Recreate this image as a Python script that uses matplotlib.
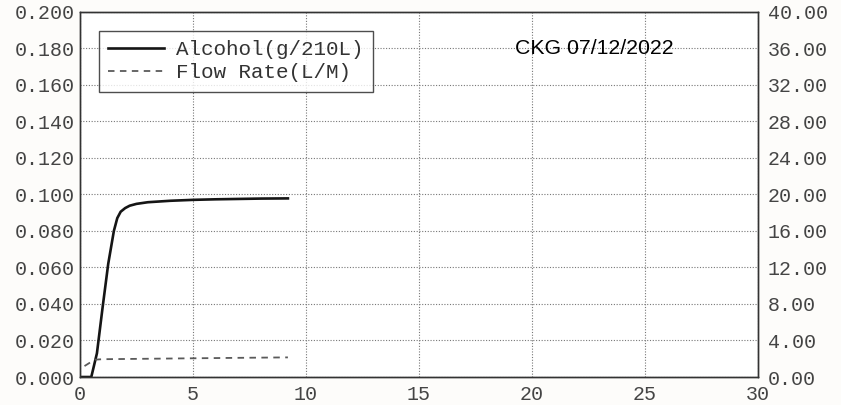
import numpy as np
import matplotlib
matplotlib.use('Agg')
import matplotlib.pyplot as plt
from matplotlib.ticker import FormatStrFormatter

# breath test readout
t_alc = [0.0, 0.5, 0.75, 1.0, 1.25, 1.5, 1.65, 1.8, 2.0, 2.2, 2.5, 3.0, 4.0, 5.0,
         6.0, 7.0, 8.0, 9.2]
alcohol = [0.000, 0.000, 0.013, 0.038, 0.062, 0.080, 0.087, 0.0905, 0.0925, 0.0938,
           0.0948, 0.0957, 0.0965, 0.0970, 0.0973, 0.0975, 0.0977, 0.0978]

t_flow = [0.2, 0.65, 1.0, 3.0, 5.0, 7.0, 9.2]
flow = [1.2, 1.9, 1.95, 2.0, 2.05, 2.1, 2.15]

x_ticks = [0, 5, 10, 15, 20, 25, 30]
left_ticks = [0.000, 0.020, 0.040, 0.060, 0.080, 0.100, 0.120, 0.140, 0.160, 0.180, 0.200]
right_ticks = [0, 4, 8, 12, 16, 20, 24, 28, 32, 36, 40]

stamp = 'CKG 07/12/2022'

mono = 'Liberation Mono'
txt = '#444444'

fig = plt.figure(figsize=(8.41, 4.05), dpi=100)
fig.patch.set_facecolor('#fdfcfa')
ax = fig.add_axes([0.0951, 0.0691, 0.8062, 0.9019])
ax.set_facecolor('white')
ax2 = ax.twinx()

l1, = ax.plot(t_alc, alcohol, color='#151515', lw=1.9, label='Alcohol(g/210L)')
l2, = ax2.plot(t_flow, flow, color='#5a5a5a', lw=1.3, ls=(0, (3.6, 3.0)), label='Flow Rate(L/M)')

ax.set_xlim(0, 30)
ax.set_ylim(0, 0.2)
ax2.set_ylim(0, 40)
ax.set_xticks(x_ticks)
ax.set_yticks(left_ticks)
ax2.set_yticks(right_ticks)
ax.yaxis.set_major_formatter(FormatStrFormatter('%.3f'))
ax2.yaxis.set_major_formatter(FormatStrFormatter('%.2f'))

ax.grid(True, color='#777777', ls=(0, (1, 1.5)), lw=0.8)
ax.set_axisbelow(True)

for a in (ax, ax2):
    a.tick_params(length=0, labelsize=14.4, labelcolor=txt)
    for lab in a.get_xticklabels() + a.get_yticklabels():
        lab.set_family(mono)
    for s in a.spines.values():
        s.set_color('#333333')
        s.set_linewidth(1.0)
ax.tick_params(axis='y', pad=4)
ax.tick_params(axis='x', pad=6)
ax2.tick_params(axis='y', pad=7)

leg = ax.legend(handles=[l1, l2], loc='upper left', bbox_to_anchor=(0.028, 0.948),
                prop={'family': mono, 'size': 15}, frameon=True, fancybox=False,
                handlelength=2.65, handletextpad=0.58, borderpad=0.45, labelspacing=0.2,
                borderaxespad=0)
leg.get_frame().set_edgecolor('#222222')
leg.get_frame().set_linewidth(1.0)
for t in leg.get_texts():
    t.set_color('#333333')

ax.text(19.25, 0.18, stamp, ha='left', va='center', fontsize=15.3,
        family='Liberation Sans', color='black')

fig.savefig('out.png', dpi=100, facecolor=fig.get_facecolor())
